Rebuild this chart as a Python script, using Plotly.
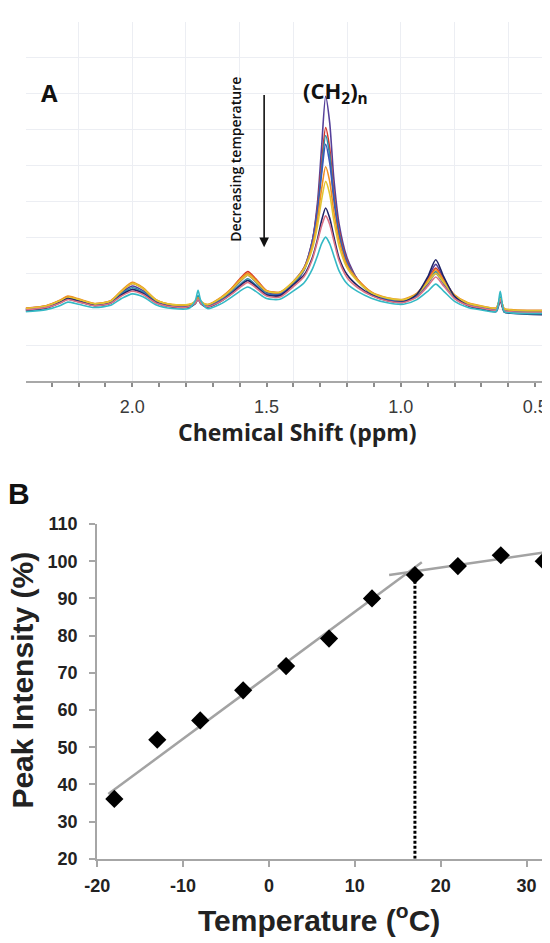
import plotly.graph_objects as go

# ---- panel A: 1H NMR spectra at several temperatures ----
ppm = [2.40, 2.32, 2.27, 2.24, 2.20, 2.14, 2.08, 2.04, 2.00, 1.96, 1.91, 1.85, 1.79,
       1.765, 1.755, 1.745, 1.72, 1.67, 1.63, 1.60, 1.57, 1.54, 1.50, 1.45,
       1.40, 1.36, 1.33, 1.31, 1.295, 1.28, 1.265, 1.25, 1.23, 1.20, 1.16,
       1.11, 1.05, 0.99, 0.94, 0.90, 0.87, 0.84, 0.80, 0.75, 0.69, 0.645, 0.63,
       0.615, 0.59, 0.53, 0.44]

spec_purple = [2.00, 2.08, 2.22, 2.32, 2.25, 2.13, 2.20, 2.46, 2.65, 2.52, 2.22, 2.10, 2.10,
               2.20, 2.32, 2.20, 2.10, 2.28, 2.52, 2.76, 2.95, 2.76, 2.47, 2.44,
               2.69, 3.09, 3.88, 5.00, 6.52, 7.93, 7.20, 5.68, 4.38, 3.43, 2.81,
               2.45, 2.28, 2.24, 2.42, 2.85, 3.25, 2.85, 2.38, 2.14, 2.04, 2.00, 2.28,
               1.98, 1.94, 1.91, 1.90]
spec_red = [2.03, 2.10, 2.24, 2.35, 2.27, 2.15, 2.23, 2.50, 2.72, 2.58, 2.25, 2.12, 2.12,
            2.20, 2.30, 2.20, 2.12, 2.32, 2.58, 2.84, 3.05, 2.85, 2.52, 2.47,
            2.75, 3.16, 3.89, 4.87, 6.06, 7.06, 6.49, 5.30, 4.20, 3.35, 2.82,
            2.47, 2.30, 2.25, 2.42, 2.80, 3.15, 2.80, 2.38, 2.16, 2.06, 2.02, 2.28,
            2.00, 1.97, 1.95, 1.95]
spec_teal = [1.99, 2.06, 2.20, 2.30, 2.23, 2.12, 2.19, 2.43, 2.60, 2.48, 2.20, 2.09, 2.09,
             2.22, 2.38, 2.22, 2.09, 2.26, 2.48, 2.68, 2.85, 2.68, 2.43, 2.42,
             2.73, 3.12, 3.82, 4.75, 5.89, 6.84, 6.30, 5.16, 4.12, 3.30, 2.80,
             2.44, 2.27, 2.22, 2.38, 2.74, 3.05, 2.74, 2.33, 2.12, 2.03, 1.99, 2.35,
             1.97, 1.94, 1.92, 1.92]
spec_blue = [1.98, 2.05, 2.18, 2.28, 2.21, 2.11, 2.18, 2.40, 2.55, 2.45, 2.19, 2.08, 2.08,
             2.18, 2.30, 2.18, 2.08, 2.24, 2.45, 2.64, 2.80, 2.64, 2.41, 2.41,
             2.77, 3.16, 3.89, 4.79, 5.77, 6.59, 6.08, 5.09, 4.06, 3.29, 2.81,
             2.44, 2.26, 2.21, 2.36, 2.70, 3.00, 2.70, 2.31, 2.11, 2.02, 1.98, 2.26,
             1.96, 1.93, 1.90, 1.89]
spec_orange = [2.02, 2.10, 2.25, 2.37, 2.29, 2.16, 2.24, 2.52, 2.75, 2.60, 2.26, 2.13, 2.13,
               2.22, 2.32, 2.22, 2.13, 2.33, 2.58, 2.82, 3.00, 2.82, 2.52, 2.48,
               2.78, 3.15, 3.76, 4.52, 5.35, 5.97, 5.57, 4.74, 3.91, 3.22, 2.82,
               2.48, 2.32, 2.28, 2.45, 2.80, 3.10, 2.80, 2.40, 2.18, 2.08, 2.04, 2.30,
               2.02, 1.99, 1.97, 1.97]
spec_yellow = [2.02, 2.09, 2.23, 2.33, 2.27, 2.15, 2.23, 2.50, 2.72, 2.58, 2.25, 2.13, 2.13,
               2.21, 2.30, 2.21, 2.13, 2.31, 2.55, 2.78, 2.95, 2.78, 2.50, 2.47,
               2.77, 3.12, 3.67, 4.34, 5.05, 5.56, 5.21, 4.50, 3.76, 3.15, 2.77,
               2.46, 2.31, 2.27, 2.42, 2.74, 3.00, 2.74, 2.38, 2.17, 2.07, 2.03, 2.29,
               2.01, 1.98, 1.96, 1.96]
spec_navy = [1.95, 2.03, 2.18, 2.30, 2.22, 2.10, 2.17, 2.40, 2.55, 2.44, 2.18, 2.06, 2.06,
             2.16, 2.28, 2.16, 2.06, 2.22, 2.44, 2.64, 2.80, 2.64, 2.40, 2.38,
             2.68, 2.96, 3.43, 3.96, 4.47, 4.82, 4.54, 4.04, 3.43, 2.96, 2.65,
             2.40, 2.24, 2.20, 2.42, 2.90, 3.38, 2.90, 2.36, 2.10, 1.99, 1.94, 2.24,
             1.92, 1.89, 1.86, 1.85]
spec_pink = [1.98, 2.05, 2.17, 2.27, 2.20, 2.10, 2.17, 2.37, 2.50, 2.41, 2.17, 2.07, 2.07,
             2.17, 2.28, 2.17, 2.07, 2.22, 2.42, 2.60, 2.75, 2.60, 2.37, 2.34,
             2.63, 2.91, 3.38, 3.90, 4.32, 4.60, 4.37, 3.92, 3.35, 2.88, 2.60,
             2.38, 2.23, 2.19, 2.34, 2.64, 2.90, 2.64, 2.30, 2.11, 2.02, 1.98, 2.26,
             1.96, 1.93, 1.91, 1.91]
spec_cyan = [1.93, 1.99, 2.10, 2.20, 2.14, 2.05, 2.11, 2.30, 2.43, 2.35, 2.12, 2.02, 2.02,
             2.25, 2.53, 2.25, 2.02, 2.15, 2.34, 2.50, 2.62, 2.50, 2.30, 2.28,
             2.51, 2.74, 3.11, 3.50, 3.83, 4.01, 3.83, 3.50, 3.07, 2.71, 2.49,
             2.31, 2.18, 2.14, 2.27, 2.50, 2.70, 2.50, 2.22, 2.05, 1.97, 1.94, 2.50,
             1.93, 1.90, 1.88, 1.88]

spectra = [spec_purple, spec_red, spec_teal, spec_blue, spec_orange,
           spec_yellow, spec_navy, spec_pink, spec_cyan]
spec_colors = ["#55409a", "#d2352b", "#2a8fa8", "#3a56b8", "#ef8f22",
               "#e2c431", "#1e2366", "#dc7384", "#34b9c5"]

ppm_ticks = [0.5, 0.6, 0.7, 0.8, 0.9, 1.0, 1.1, 1.2, 1.3, 1.4, 1.5, 1.6, 1.7, 1.8, 1.9,
             2.0, 2.1, 2.2, 2.3]
ppm_labels = ["0.5", "", "", "", "", "1.0", "", "", "", "", "1.5", "", "", "", "",
              "2.0", "", "", ""]

# ---- panel B: peak intensity vs temperature ----
temp = [-18, -13, -8, -3, 2, 7, 12, 17, 22, 27, 32]
intensity = [36.1, 52.0, 57.2, 65.3, 71.8, 79.2, 90.0, 96.3, 98.7, 101.6, 100.0]

temp_ticks = [-20, -10, 0, 10, 20, 30]
temp_labels = ["-20", "-10", "0", "10", "20", "30"]

fit_low_t = [-18.7, 17.8]
fit_low_i = [37.4, 99.7]
fit_high_t = [14.0, 32.8]
fit_high_i = [96.3, 102.6]

transition_t = 17
transition_i = 96.3

# page is drawn inside the default 8px body margin
W, H, OFF = 550, 943, 8


def xp(px):
    return (px - OFF) / W


def yp(py):
    return 1 - (py - OFF) / H


fig = go.Figure()

for vals, col in zip(spectra, spec_colors):
    fig.add_trace(go.Scatter(x=ppm, y=vals, mode="lines",
                             line=dict(color=col, width=1.6, shape="spline", smoothing=0.7),
                             xaxis="x", yaxis="y", showlegend=False, hoverinfo="skip"))

# fit lines
fig.add_trace(go.Scatter(x=fit_low_t, y=fit_low_i, mode="lines",
                         line=dict(color="#a3a3a3", width=2.5),
                         xaxis="x2", yaxis="y2", showlegend=False))
fig.add_trace(go.Scatter(x=fit_high_t, y=fit_high_i, mode="lines",
                         line=dict(color="#a3a3a3", width=2.5),
                         xaxis="x2", yaxis="y2", showlegend=False))
# transition marker
fig.add_trace(go.Scatter(x=[transition_t, transition_t], y=[20, transition_i], mode="lines",
                         line=dict(color="black", width=3, dash="3px,2px"),
                         xaxis="x2", yaxis="y2", showlegend=False))
fig.add_trace(go.Scatter(x=temp, y=intensity, mode="markers",
                         marker=dict(symbol="diamond", size=14, color="black"),
                         xaxis="x2", yaxis="y2", showlegend=False))

grid_col = "#eceef3"
fig.update_layout(
    width=W, height=H,
    margin=dict(l=0, r=0, t=0, b=0),
    paper_bgcolor="white", plot_bgcolor="white",
    font=dict(family="Liberation Sans, Arial", color="#222222"),
    xaxis=dict(domain=[xp(13), xp(550)], range=[2.396, 0.444], anchor="y",
               tickmode="array", tickvals=ppm_ticks, ticktext=ppm_labels,
               ticks="outside", ticklen=4, tickwidth=1.5, tickcolor="#8c8c8c",
               showline=True, linecolor="#a8a8a8", linewidth=2,
               showgrid=False, zeroline=False, ticklabelstandoff=4,
               ticklabeloverflow="allow",
               tickfont=dict(size=18, color="#3a3a3a"),
               minor=dict(tickmode="linear", tick0=0, dtick=0.2, showgrid=True,
                          gridcolor=grid_col, gridwidth=1, ticks="")),
    yaxis=dict(domain=[yp(379), yp(12)], range=[0, 10], anchor="x",
               dtick=1, showgrid=True, gridcolor=grid_col, gridwidth=1,
               showticklabels=False, zeroline=False, showline=False),
    xaxis2=dict(domain=[xp(86), xp(550)], range=[-20, 32.75], anchor="y2",
                tickmode="array", tickvals=temp_ticks, ticktext=temp_labels,
                ticks="outside", ticklen=6, tickwidth=2, tickcolor="#a6a6a6",
                showline=True, linecolor="#a6a6a6", linewidth=2,
                showgrid=False, zeroline=False, ticklabelstandoff=4,
                tickfont=dict(size=18, color="#222222", weight="bold")),
    yaxis2=dict(domain=[yp(867), yp(525)], range=[20, 110], anchor="x2",
                tickmode="linear", tick0=20, dtick=10,
                ticks="outside", ticklen=6, tickwidth=2, tickcolor="#a6a6a6",
                showline=True, linecolor="#a6a6a6", linewidth=2,
                showgrid=False, zeroline=False, ticklabelstandoff=8,
                tickfont=dict(size=18, color="#222222", weight="bold")),
)

# panel A texts
fig.add_annotation(x=xp(37), y=yp(84), xref="paper", yref="paper", text="<b>A</b>",
                   showarrow=False, xanchor="center", yanchor="middle",
                   font=dict(family="Open Sans", size=24, color="#111111"))
fig.add_annotation(x=xp(330), y=yp(84), xref="paper", yref="paper",
                   text="<b>(CH<sub>2</sub>)<sub>n</sub></b>",
                   showarrow=False, xanchor="center", yanchor="middle",
                   font=dict(family="Open Sans", size=22, color="#111111"))
fig.add_annotation(x=xp(228), y=yp(152), xref="paper", yref="paper",
                   text="Decreasing temperature", textangle=-90, showarrow=False,
                   xanchor="center", yanchor="middle",
                   font=dict(family="Open Sans", size=14, weight=600, color="#111111"))
fig.add_annotation(x=1.509, y=3.73, ax=1.509, ay=8.01, xref="x", yref="y", axref="x", ayref="y",
                   text="", showarrow=True, arrowhead=2, arrowsize=1.2, arrowwidth=1.6,
                   arrowcolor="#111111")
fig.add_annotation(x=xp(291), y=yp(431), xref="paper", yref="paper",
                   text="<b>Chemical Shift (ppm)</b>", showarrow=False,
                   xanchor="center", yanchor="middle",
                   font=dict(family="Open Sans", size=23, color="#222222"))

# panel B texts
fig.add_annotation(x=xp(6), y=yp(494), xref="paper", yref="paper", text="<b>B</b>",
                   showarrow=False, xanchor="center", yanchor="middle",
                   font=dict(size=30, color="#111111"))
fig.add_annotation(x=xp(10), y=yp(684), xref="paper", yref="paper",
                   text="<b>Peak Intensity (%)</b>", textangle=-90, showarrow=False,
                   xanchor="center", yanchor="middle",
                   font=dict(size=30, color="#222222"))
fig.add_annotation(x=xp(313), y=yp(927), xref="paper", yref="paper",
                   text="<b>Temperature (<sup>o</sup>C)</b>", showarrow=False,
                   xanchor="center", yanchor="middle",
                   font=dict(size=30, color="#222222"))

fig.write_html("out.html")
